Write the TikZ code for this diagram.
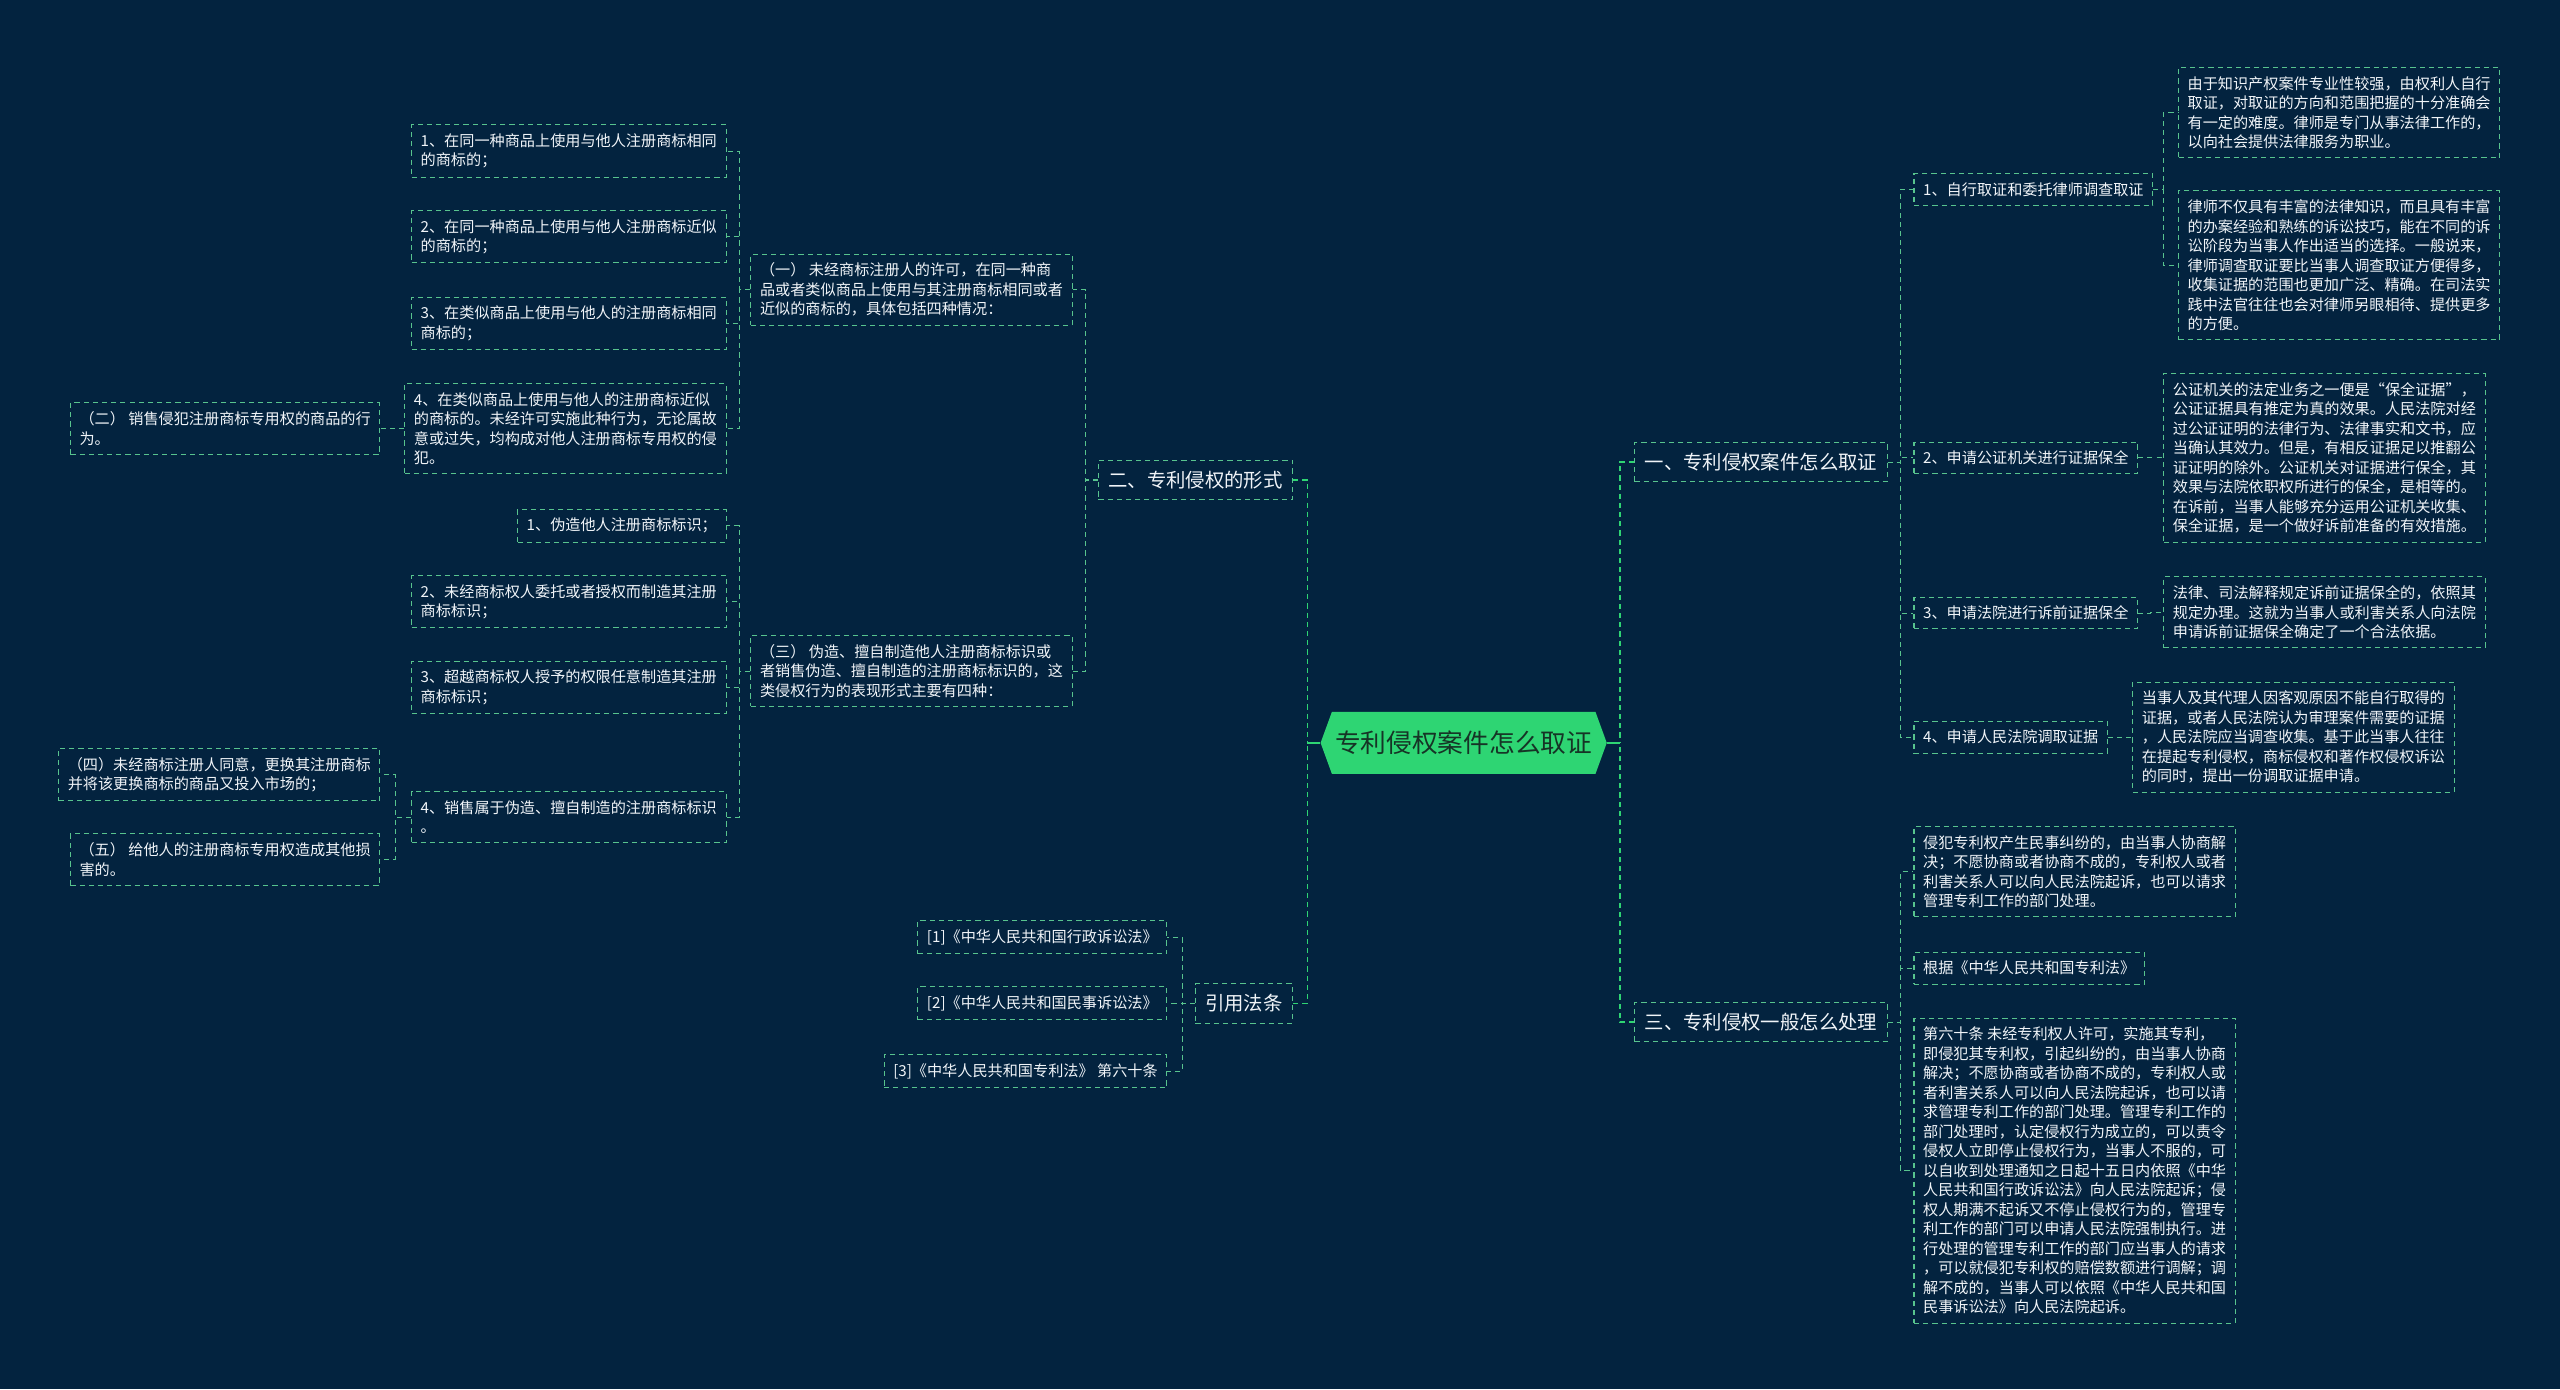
\documentclass[tikz,border=0pt]{standalone}
\usepackage{fontspec}
\setmainfont{Noto Sans CJK SC}
\usetikzlibrary{shapes.symbols}
\definecolor{bgnavy}{HTML}{03233F}
\definecolor{linegreen}{RGB}{88,196,142}
\definecolor{rootgreen}{RGB}{46,213,115}
\definecolor{roottext}{RGB}{22,52,38}
\definecolor{leaftext}{RGB}{240,244,248}
\begin{document}
\begin{tikzpicture}[
    x=0.05cm, y=-0.05cm,
    every node/.style={align=left, text=leaftext},
    leaf box/.style={draw=linegreen, line width=0.9pt, dash pattern=on 4.5pt off 3.5pt,
        inner xsep=0.28cm, inner ysep=0.27cm, font=\fontsize{13.2pt}{17pt}\selectfont},
    branch box/.style={leaf box, inner xsep=0.3cm, inner ysep=0.33cm,
        font=\fontsize{16.9pt}{20pt}\selectfont},
    root box/.style={signal, signal to=west and east, signal pointer angle=140,
        fill=rootgreen, text=roottext, inner xsep=0.1cm, minimum height=1.9cm,
        font=\fontsize{22.4pt}{26pt}\selectfont},
    link/.style={draw=linegreen, line width=0.9pt, dash pattern=on 4.5pt off 3.5pt},
    root link/.style={draw=rootgreen, line width=1.3pt, dash pattern=on 4.5pt off 3.5pt},
    root stub/.style={draw=rootgreen, line width=1.3pt},
    ]
\fill[bgnavy] (0,0) rectangle (1568,851);
\useasboundingbox (0,0) rectangle (1568,851);
% root
\node[root box] (root) at (896.5,455) {专利侵权案件怎么取证};
% left half
\node[branch box, anchor=east] (form) at (792,294) {二、专利侵权的形式};
\node[branch box, anchor=east] (cite) at (792,614.5) {引用法条};
\node[leaf box, anchor=east] (typeA) at (657,177.5) {（一） 未经商标注册人的许可，在同一种商\\品或者类似商品上使用与其注册商标相同或者\\近似的商标的，具体包括四种情况：};
\node[leaf box, anchor=east] (typeC) at (657,411) {（三） 伪造、擅自制造他人注册商标标识或\\者销售伪造、擅自制造的注册商标标识的，这\\类侵权行为的表现形式主要有四种：};
\node[leaf box, anchor=east] (a1) at (445,92.5) {1、在同一种商品上使用与他人注册商标相同\\的商标的；};
\node[leaf box, anchor=east] (a2) at (445,145) {2、在同一种商品上使用与他人注册商标近似\\的商标的；};
\node[leaf box, anchor=east] (a3) at (445,198) {3、在类似商品上使用与他人的注册商标相同\\商标的；};
\node[leaf box, anchor=east] (a4) at (445,262.5) {4、在类似商品上使用与他人的注册商标近似\\的商标的。未经许可实施此种行为，无论属故\\意或过失，均构成对他人注册商标专用权的侵\\犯。};
\node[leaf box, anchor=east] (typeB) at (233,262.5) {（二） 销售侵犯注册商标专用权的商品的行\\为。};
\node[leaf box, anchor=east] (c1) at (445,322) {1、伪造他人注册商标标识；};
\node[leaf box, anchor=east] (c2) at (445,368.5) {2、未经商标权人委托或者授权而制造其注册\\商标标识；};
\node[leaf box, anchor=east] (c3) at (445,421) {3、超越商标权人授予的权限任意制造其注册\\商标标识；};
\node[leaf box, anchor=east] (c4) at (445,500.5) {4、销售属于伪造、擅自制造的注册商标标识\\。};
\node[leaf box, anchor=east] (typeD) at (233,474.5) {（四）未经商标注册人同意，更换其注册商标\\并将该更换商标的商品又投入市场的；};
\node[leaf box, anchor=east] (typeE) at (233,526.5) {（五） 给他人的注册商标专用权造成其他损\\害的。};
\node[leaf box, anchor=east] (law1) at (715,574) {{[1]}《中华人民共和国行政诉讼法》};
\node[leaf box, anchor=east] (law2) at (715,614.5) {{[2]}《中华人民共和国民事诉讼法》};
\node[leaf box, anchor=east] (law3) at (715,656) {{[3]}《中华人民共和国专利法》 第六十条};
% right half
\node[branch box, anchor=west] (proof) at (1001,283) {一、专利侵权案件怎么取证};
\node[branch box, anchor=west] (handle) at (1001,626) {三、专利侵权一般怎么处理};
\node[leaf box, anchor=west] (p1) at (1172,116) {1、自行取证和委托律师调查取证};
\node[leaf box, anchor=west] (p1a) at (1334,69) {由于知识产权案件专业性较强，由权利人自行\\取证，对取证的方向和范围把握的十分准确会\\有一定的难度。律师是专门从事法律工作的，\\以向社会提供法律服务为职业。};
\node[leaf box, anchor=west] (p1b) at (1334,162.5) {律师不仅具有丰富的法律知识，而且具有丰富\\的办案经验和熟练的诉讼技巧，能在不同的诉\\讼阶段为当事人作出适当的选择。一般说来，\\律师调查取证要比当事人调查取证方便得多，\\收集证据的范围也更加广泛、精确。在司法实\\践中法官往往也会对律师另眼相待、提供更多\\的方便。};
\node[leaf box, anchor=west] (p2) at (1172,280.5) {2、申请公证机关进行证据保全};
\node[leaf box, anchor=west] (p2a) at (1325,280.5) {公证机关的法定业务之一便是“保全证据”，\\公证证据具有推定为真的效果。人民法院对经\\过公证证明的法律行为、法律事实和文书，应\\当确认其效力。但是，有相反证据足以推翻公\\证证明的除外。公证机关对证据进行保全，其\\效果与法院依职权所进行的保全，是相等的。\\在诉前，当事人能够充分运用公证机关收集、\\保全证据，是一个做好诉前准备的有效措施。};
\node[leaf box, anchor=west] (p3) at (1172,375.5) {3、申请法院进行诉前证据保全};
\node[leaf box, anchor=west] (p3a) at (1325,375) {法律、司法解释规定诉前证据保全的，依照其\\规定办理。这就为当事人或利害关系人向法院\\申请诉前证据保全确定了一个合法依据。};
\node[leaf box, anchor=west] (p4) at (1172,451.5) {4、申请人民法院调取证据};
\node[leaf box, anchor=west] (p4a) at (1306,451.5) {当事人及其代理人因客观原因不能自行取得的\\证据，或者人民法院认为审理案件需要的证据\\，人民法院应当调查收集。基于此当事人往往\\在提起专利侵权，商标侵权和著作权侵权诉讼\\的同时，提出一份调取证据申请。};
\node[leaf box, anchor=west] (h1) at (1172,534) {侵犯专利权产生民事纠纷的，由当事人协商解\\决；不愿协商或者协商不成的，专利权人或者\\利害关系人可以向人民法院起诉，也可以请求\\管理专利工作的部门处理。};
\node[leaf box, anchor=west] (h2) at (1172,593) {根据《中华人民共和国专利法》};
\node[leaf box, anchor=west] (h3) at (1172,717) {第六十条 未经专利权人许可，实施其专利，\\即侵犯其专利权，引起纠纷的，由当事人协商\\解决；不愿协商或者协商不成的，专利权人或\\者利害关系人可以向人民法院起诉，也可以请\\求管理专利工作的部门处理。管理专利工作的\\部门处理时，认定侵权行为成立的，可以责令\\侵权人立即停止侵权行为，当事人不服的，可\\以自收到处理通知之日起十五日内依照《中华\\人民共和国行政诉讼法》向人民法院起诉；侵\\权人期满不起诉又不停止侵权行为的，管理专\\利工作的部门可以申请人民法院强制执行。进\\行处理的管理专利工作的部门应当事人的请求\\，可以就侵犯专利权的赔偿数额进行调解；调\\解不成的，当事人可以依照《中华人民共和国\\民事诉讼法》向人民法院起诉。};
% links from the root
\draw[root stub] (root.west) -- ([xshift=-4mm]root.west);
\draw[root stub] (root.east) -- ([xshift=4mm]root.east);
\draw[root link] (form.east) -| ([xshift=-4mm]root.west);
\draw[root link] (cite.east) -| ([xshift=-4mm]root.west);
\draw[root link] (proof.west) -| ([xshift=4mm]root.east);
\draw[root link] (handle.west) -| ([xshift=4mm]root.east);
% left links
\draw[link] (form.west) -| ([xshift=4mm]typeA.east) -- (typeA.east);
\draw[link] (form.west) -| ([xshift=4mm]typeC.east) -- (typeC.east);
\draw[link] (typeA.west) -| ([xshift=4mm]a1.east) -- (a1.east);
\draw[link] (typeA.west) -| ([xshift=4mm]a2.east) -- (a2.east);
\draw[link] (typeA.west) -| ([xshift=4mm]a3.east) -- (a3.east);
\draw[link] (typeA.west) -| ([xshift=4mm]a4.east) -- (a4.east);
\draw[link] (a4.west) -| ([xshift=4mm]typeB.east) -- (typeB.east);
\draw[link] (typeC.west) -| ([xshift=4mm]c1.east) -- (c1.east);
\draw[link] (typeC.west) -| ([xshift=4mm]c2.east) -- (c2.east);
\draw[link] (typeC.west) -| ([xshift=4mm]c3.east) -- (c3.east);
\draw[link] (typeC.west) -| ([xshift=4mm]c4.east) -- (c4.east);
\draw[link] (c4.west) -| ([xshift=4.5mm]typeD.east) -- (typeD.east);
\draw[link] (c4.west) -| ([xshift=4.5mm]typeE.east) -- (typeE.east);
\draw[link] (cite.west) -| ([xshift=4.5mm]law1.east) -- (law1.east);
\draw[link] (cite.west) -| ([xshift=4.5mm]law2.east) -- (law2.east);
\draw[link] (cite.west) -| ([xshift=4.5mm]law3.east) -- (law3.east);
% right links
\draw[link] (proof.east) -| ([xshift=-4mm]p1.west) -- (p1.west);
\draw[link] (proof.east) -| ([xshift=-4mm]p2.west) -- (p2.west);
\draw[link] (proof.east) -| ([xshift=-4mm]p3.west) -- (p3.west);
\draw[link] (proof.east) -| ([xshift=-4mm]p4.west) -- (p4.west);
\draw[link] (p1.east) -| ([xshift=-4.5mm]p1a.west) -- (p1a.west);
\draw[link] (p1.east) -| ([xshift=-4.5mm]p1b.west) -- (p1b.west);
\draw[link] (p2.east) -| ([xshift=-4mm]p2a.west) -- (p2a.west);
\draw[link] (p3.east) -| ([xshift=-4mm]p3a.west) -- (p3a.west);
\draw[link] (p4.east) -| ([xshift=-4mm]p4a.west) -- (p4a.west);
\draw[link] (handle.east) -| ([xshift=-4mm]h1.west) -- (h1.west);
\draw[link] (handle.east) -| ([xshift=-4mm]h2.west) -- (h2.west);
\draw[link] (handle.east) -| ([xshift=-4mm]h3.west) -- (h3.west);
\end{tikzpicture}
\end{document}
